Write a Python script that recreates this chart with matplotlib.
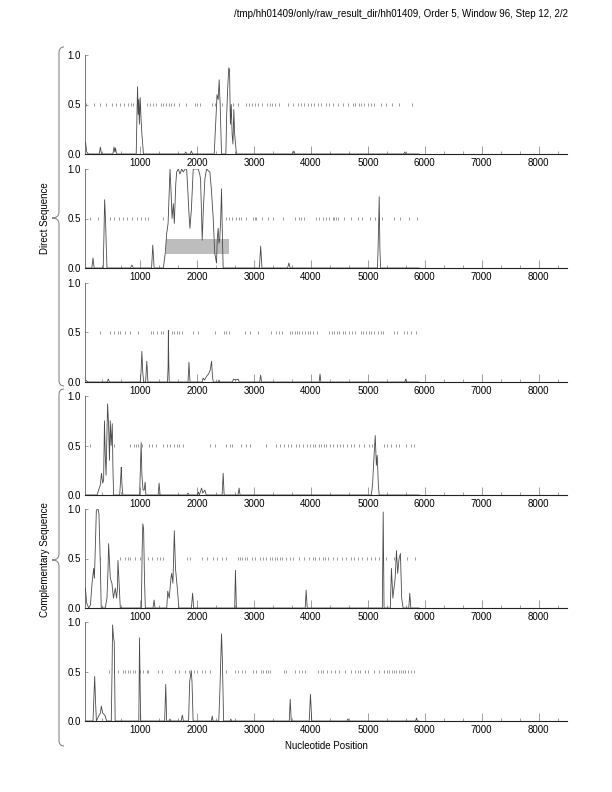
import matplotlib
matplotlib.use("Agg")
import matplotlib.pyplot as plt
from matplotlib.ticker import MultipleLocator, FixedLocator
from matplotlib.path import Path
from matplotlib.patches import PathPatch, Rectangle

plt.rcParams['font.family'] = ['Liberation Sans', 'DejaVu Sans']

title = "/tmp/hh01409/only/raw_result_dir/hh01409, Order 5, Window 96, Step 12, 2/2"
xlabel = "Nucleotide Position"
group_labels = ["Direct Sequence", "Complementary Sequence"]
xticks = [1000, 2000, 3000, 4000, 5000, 6000, 7000, 8000]
yticks = [0.0, 0.5, 1.0]
ytick_labels = ["0.0", "0.5", "1.0"]

# ---- traces (x, y) per panel ----
p1_x = [40, 60, 90, 280, 300, 320, 520, 540, 555, 565, 585,
        930, 945, 953, 965, 975, 985, 1000, 1015, 1030, 1057,
        1780, 1800, 1820, 1880, 1900, 1920,
        2300, 2330, 2350, 2370, 2388, 2405, 2429,
        2505, 2520, 2540, 2557, 2570, 2585, 2600, 2615, 2630, 2645, 2660, 2691,
        3680, 3700, 3720, 5630, 5650, 5670, 5900]
p1_y = [0.12, 0.02, 0.0, 0.0, 0.07, 0.0, 0.0, 0.07, 0.02, 0.06, 0.0,
        0.0, 0.45, 0.68, 0.40, 0.55, 0.30, 0.57, 0.35, 0.20, 0.0,
        0.0, 0.02, 0.0, 0.0, 0.03, 0.0,
        0.0, 0.35, 0.60, 0.55, 0.75, 0.50, 0.0,
        0.0, 0.40, 0.70, 0.87, 0.85, 0.30, 0.50, 0.20, 0.10, 0.45, 0.20, 0.0,
        0.0, 0.03, 0.0, 0.0, 0.02, 0.0, 0.0]

p2_x = [40, 150, 171, 190, 350, 362, 375, 390, 405, 416, 830, 854, 880,
        1200, 1221, 1245,
        1407, 1440, 1466, 1490, 1524, 1540, 1560, 1582, 1600, 1625, 1641, 1670,
        1699, 1730, 1757, 1790, 1816, 1840, 1857, 1874, 1900, 1932, 1980, 2020,
        2045, 2061, 2090, 2110, 2137, 2166, 2200, 2224, 2250, 2283, 2310, 2341,
        2355, 2370, 2385, 2399, 2415, 2429, 2445, 2458,
        3095, 3117, 3140, 3590, 3613, 3635,
        5170, 5185, 5200, 5212, 5225, 5900]
p2_y = [0.0, 0.0, 0.10, 0.0, 0.0, 0.30, 0.69, 0.50, 0.20, 0.0, 0.0, 0.03, 0.0,
        0.0, 0.23, 0.0,
        0.0, 0.15, 0.35, 0.45, 1.0, 0.80, 0.50, 0.65, 0.45, 0.85, 0.97, 1.0,
        0.95, 1.0, 0.97, 1.0, 1.0, 0.75, 0.55, 0.40, 0.60, 1.0, 1.0, 1.0,
        0.95, 0.90, 0.28, 0.60, 0.90, 1.0, 0.98, 0.97, 0.80, 0.50, 0.15, 0.05,
        0.30, 0.40, 0.25, 0.30, 0.50, 0.80, 0.30, 0.0,
        0.0, 0.22, 0.0, 0.0, 0.05, 0.0,
        0.0, 0.30, 0.72, 0.20, 0.0, 0.0]

p3_x = [40, 80, 420, 440, 460,
        1000, 1015, 1029, 1045, 1060, 1095, 1116, 1135,
        1480, 1490, 1495, 1502, 1510, 1840, 1857, 1875,
        2090, 2105, 2130, 2170, 2200, 2230, 2255, 2270, 2285, 2370, 2385, 2400,
        2620, 2640, 2680, 2720, 2740, 3100, 3115, 3135,
        4145, 4160, 4175, 5650, 5666, 5680, 5900]
p3_y = [0.02, 0.0, 0.0, 0.03, 0.0,
        0.0, 0.10, 0.31, 0.10, 0.0, 0.0, 0.21, 0.0,
        0.0, 0.15, 0.52, 0.20, 0.0, 0.0, 0.20, 0.0,
        0.0, 0.04, 0.02, 0.06, 0.08, 0.12, 0.21, 0.05, 0.0, 0.0, 0.02, 0.0,
        0.0, 0.03, 0.02, 0.03, 0.0, 0.0, 0.07, 0.0,
        0.0, 0.08, 0.0, 0.0, 0.03, 0.0, 0.0]

p4_x = [40, 241, 270, 299, 320, 340, 357, 372, 386, 400, 415, 427, 445, 460,
        474, 490, 509, 520, 532, 640, 660, 667, 680, 695,
        990, 1005, 1017, 1030, 1050, 1070, 1087, 1100, 1315, 1332, 1350,
        1820, 1840, 1860, 2005, 2020, 2040, 2079, 2100, 2137, 2160,
        2440, 2458, 2475, 2720, 2737, 2755,
        5060, 5083, 5100, 5130, 5150, 5165, 5185, 5200, 5900]
p4_y = [0.0, 0.0, 0.05, 0.10, 0.22, 0.12, 0.15, 0.75, 0.40, 0.20, 0.60, 0.92, 0.70, 0.35,
        0.75, 0.50, 0.72, 0.30, 0.0, 0.0, 0.20, 0.28, 0.10, 0.0,
        0.0, 0.30, 0.53, 0.20, 0.05, 0.05, 0.13, 0.0, 0.0, 0.12, 0.0,
        0.0, 0.02, 0.0, 0.0, 0.03, 0.0, 0.07, 0.02, 0.05, 0.0,
        0.0, 0.22, 0.0, 0.0, 0.07, 0.0,
        0.0, 0.10, 0.30, 0.60, 0.30, 0.40, 0.10, 0.0, 0.0]

p5_x = [37, 60, 95, 125, 154, 182, 195, 212, 229, 245, 259, 275, 299, 315,
        386, 416, 435, 445, 475, 503, 530, 545, 562, 585, 600, 609, 625, 650,
        1020, 1035, 1046, 1060, 1075, 1090, 1225, 1244, 1260,
        1466, 1484, 1510, 1540, 1554, 1575, 1600, 1620, 1652, 1680,
        1900, 1921, 1940, 2660, 2674, 2690, 3900, 3916, 3935,
        5255, 5270, 5285, 5395, 5415, 5440, 5480, 5503, 5525, 5549, 5573, 5595, 5620,
        5720, 5737, 5755, 5900]
p5_y = [0.20, 0.05, 0.0, 0.03, 0.25, 0.40, 0.30, 0.62, 0.98, 1.0, 1.0, 0.95, 0.45, 0.0,
        0.0, 0.10, 0.40, 0.65, 0.30, 0.25, 0.10, 0.15, 0.20, 0.10, 0.20, 0.48, 0.30, 0.0,
        0.0, 0.60, 0.85, 0.80, 0.30, 0.0, 0.0, 0.08, 0.0,
        0.0, 0.17, 0.10, 0.30, 0.35, 0.25, 0.78, 0.40, 0.20, 0.0,
        0.0, 0.15, 0.0, 0.0, 0.38, 0.0, 0.0, 0.18, 0.0,
        0.0, 0.97, 0.0, 0.0, 0.40, 0.10, 0.30, 0.58, 0.35, 0.50, 0.55, 0.10, 0.0,
        0.0, 0.15, 0.0, 0.0]

p6_x = [40, 171, 200, 215, 230, 270, 300, 317, 340, 360, 385, 410,
        492, 505, 515, 530, 544, 560, 976, 988, 1000, 1010,
        1430, 1449, 1465, 1510, 1524, 1540, 1720, 1740, 1760,
        1850, 1870, 1897, 1910, 1930, 2250, 2266, 2280,
        2380, 2400, 2429, 2445, 2465, 2580, 2592, 2605,
        3620, 3636, 3655, 3970, 3992, 4015, 4630, 4650, 4670, 5840, 5855, 5870, 5900]
p6_y = [0.0, 0.0, 0.45, 0.20, 0.0, 0.05, 0.08, 0.15, 0.08, 0.07, 0.05, 0.0,
        0.0, 0.50, 0.97, 0.85, 0.80, 0.0, 0.0, 0.84, 0.30, 0.0,
        0.0, 0.37, 0.0, 0.0, 0.02, 0.0, 0.0, 0.06, 0.0,
        0.0, 0.40, 0.51, 0.40, 0.0, 0.0, 0.05, 0.0,
        0.0, 0.30, 0.88, 0.60, 0.0, 0.0, 0.02, 0.0,
        0.0, 0.22, 0.0, 0.0, 0.27, 0.0, 0.0, 0.02, 0.0, 0.0, 0.03, 0.0, 0.0]

# ---- ORF markers at 0.5 per panel ----
m1 = [49, 182, 287, 404, 504, 579, 649, 719, 777, 836, 882, 999, 1127, 1174, 1221, 1279,
      1361, 1407, 1454, 1501, 1542, 1594, 1682, 1799, 1962, 2002, 2049, 2254, 2312, 2446,
      2632, 2720, 2866, 2912, 2965, 3012, 3070, 3146, 3227, 3274, 3322, 3374, 3432, 3595,
      3682, 3770, 3829, 3887, 3945, 4004, 4062, 4120, 4179, 4266, 4324, 4382, 4470, 4557,
      4645, 4732, 4779, 4838, 4884, 4937, 4995, 5054, 5112, 5229, 5327, 5432, 5549, 5782]
m2 = [112, 252, 474, 544, 620, 696, 766, 854, 941, 1011, 1087, 1145, 1407, 2516, 2562,
      2621, 2691, 2737, 2778, 2866, 2982, 3012, 3041, 3146, 3245, 3332, 3507, 3712, 3787,
      3829, 3887, 4091, 4149, 4207, 4266, 4324, 4382, 4412, 4441, 4470, 4590, 4710, 4820,
      4900, 5030, 5130, 5250, 5460, 5570, 5720, 5870]
m3 = [288, 463, 533, 603, 649, 725, 812, 970, 1186, 1233, 1291, 1367, 1408, 1495, 1554,
      1600, 1641, 1682, 1734, 1921, 2020, 2312, 2469, 2516, 2562, 2837, 2924, 3070, 3303,
      3391, 3432, 3496, 3624, 3671, 3712, 3752, 3799, 3846, 3899, 3945, 3986, 4032, 4102,
      4324, 4371, 4412, 4458, 4499, 4557, 4604, 4674, 4721, 4779, 4879, 4919, 4966, 5012,
      5059, 5112, 5170, 5229, 5269, 5462, 5520, 5637, 5695, 5754, 5852]
m4 = [112, 544, 824, 894, 929, 970, 1028, 1162, 1204, 1279, 1396, 1466, 1524, 1594, 1641,
      1688, 1757, 2224, 2312, 2516, 2574, 2615, 2778, 2866, 2924, 3216, 3391, 3449, 3525,
      3595, 3654, 3741, 3799, 3869, 3928, 3986, 4032, 4079, 4137, 4184, 4237, 4266, 4336,
      4394, 4452, 4511, 4569, 4627, 4704, 4762, 4849, 4937, 5012, 5071, 5287, 5345, 5404,
      5492, 5549, 5666, 5754, 5812]
m5 = [299, 649, 737, 777, 824, 912, 999, 1145, 1204, 1291, 1349, 1396, 1816, 1874, 2079,
      2166, 2271, 2341, 2429, 2516, 2720, 2761, 2796, 2837, 2877, 2971, 3012, 3099, 3157,
      3216, 3274, 3322, 3362, 3402, 3449, 3496, 3566, 3624, 3682, 3799, 3887, 3962, 4032,
      4079, 4149, 4207, 4254, 4295, 4380, 4450, 4540, 4620, 4700, 4760, 4830, 4900, 4980,
      5050, 5120, 5200, 5328, 5462, 5567, 5695, 5824]
m6 = [445, 532, 603, 696, 737, 777, 824, 871, 912, 988, 1046, 1116, 1145, 1320, 1379,
      1612, 1688, 1787, 1863, 1944, 1991, 2079, 2137, 2224, 2516, 2662, 2720, 2796, 2837,
      2982, 3029, 3129, 3157, 3204, 3245, 3286, 3519, 3566, 3729, 3787, 3846, 3904, 4120,
      4179, 4219, 4277, 4350, 4420, 4500, 4600, 4700, 4780, 4820, 4860, 4950, 5000, 5100,
      5200, 5280, 5330, 5380, 5420, 5460, 5500, 5540, 5580, 5620, 5660, 5700, 5760, 5810]

# shaded region in panel 2
shade_x = [1454, 2562]
shade_y = [0.14, 0.29]

traces = [(p1_x, p1_y), (p2_x, p2_y), (p3_x, p3_y), (p4_x, p4_y), (p5_x, p5_y), (p6_x, p6_y)]
markers = [m1, m2, m3, m4, m5, m6]

W, H = 612, 792
fig = plt.figure(figsize=(W / 100, H / 100), dpi=100)

left_px, right_px = 85, 567
tops = [55, 169, 283, 396, 509, 622]
hpx = 99

axes = []
for i, top in enumerate(tops):
    ax = fig.add_axes([left_px / W, 1 - (top + hpx) / H, (right_px - left_px) / W, hpx / H])
    axes.append(ax)
    if i == 1:
        ax.add_patch(Rectangle((shade_x[0], shade_y[0]), shade_x[1] - shade_x[0],
                               shade_y[1] - shade_y[0], facecolor='#bdbdbd',
                               edgecolor='none', zorder=1))
    ax.vlines(markers[i], 0.48, 0.52, color='#8a8a8a', lw=0.6, zorder=2)
    tx, ty = traces[i]
    ax.plot(tx, ty, color='#4a4a4a', lw=0.6, zorder=3)
    ax.set_xlim(30, 8500)
    ax.set_ylim(0, 1.0)
    for s in ('top', 'right'):
        ax.spines[s].set_visible(False)
    ax.spines['left'].set_color('#777777')
    ax.spines['left'].set_linewidth(0.7)
    ax.spines['bottom'].set_color('#222222')
    ax.spines['bottom'].set_linewidth(0.8)
    ax.xaxis.set_major_locator(FixedLocator(xticks))
    ax.xaxis.set_minor_locator(MultipleLocator(1000 / 3))
    ax.set_xticklabels([str(v) for v in xticks])
    ax.set_yticks(yticks)
    ax.set_yticklabels(ytick_labels)
    ax.tick_params(axis='x', which='major', direction='in', length=5.5, width=0.5,
                   color='#777777', labelsize=7, pad=3)
    ax.tick_params(axis='x', which='minor', direction='in', length=2.2, width=0.5,
                   color='#777777')
    ax.tick_params(axis='y', which='major', direction='in', length=2.5, width=0.5,
                   color='#777777', labelsize=7, pad=3)
    ax.patch.set_alpha(0)

fig.text(568 / W, 1 - 14 / H, title, ha='right', va='center', fontsize=7)
fig.text((left_px + right_px) / 2 / W, 1 - 746 / H, xlabel, ha='center', va='center', fontsize=7)
fig.text(45 / W, 1 - 218 / H, group_labels[0], rotation=90, ha='center', va='center', fontsize=7)
fig.text(45 / W, 1 - 560 / H, group_labels[1], rotation=90, ha='center', va='center', fontsize=7)


def brace(y0, ytip, y1, xs=59, xtip=52, xend=64, r=6):
    pts = [(xend, y0), (xs, y0), (xs, y0 + r),
           (xs, ytip - r),
           (xs, ytip), (xtip, ytip),
           (xs, ytip), (xs, ytip + r),
           (xs, y1 - r),
           (xs, y1), (xend, y1)]
    codes = [Path.MOVETO, Path.CURVE3, Path.CURVE3,
             Path.LINETO,
             Path.CURVE3, Path.CURVE3,
             Path.CURVE3, Path.CURVE3,
             Path.LINETO,
             Path.CURVE3, Path.CURVE3]
    pts = [(x / W, 1 - y / H) for x, y in pts]
    patch = PathPatch(Path(pts, codes), facecolor='none', edgecolor='#8a8a8a', lw=0.8,
                      transform=fig.transFigure)
    fig.patches.append(patch)


brace(47, 218, 386)
brace(389, 560, 746)

fig.savefig("out.png", dpi=100)
